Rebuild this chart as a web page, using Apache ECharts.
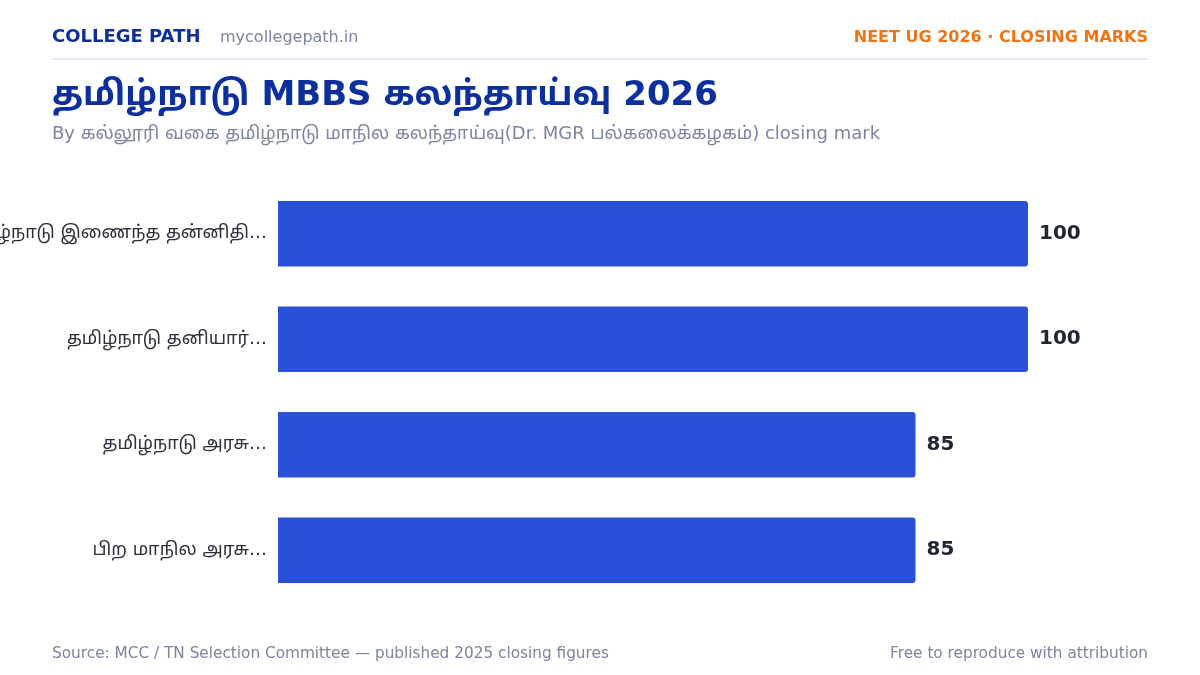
<!DOCTYPE html>
<html><head><meta charset="utf-8">
<script src="https://cdn.jsdelivr.net/npm/echarts@6/dist/echarts.min.js"></script>
<style>html,body{margin:0;padding:0;background:#fff}#c{width:1200px;height:675px}</style>
</head><body><div id="c"></div>
<script>
const categories = ["தமிழ்நாடு இணைந்த தன்னிதி…", "தமிழ்நாடு தனியார்…", "தமிழ்நாடு அரசு…", "பிற மாநில அரசு…"];
const closingMarks = [100, 100, 85, 85];
const xMax = 100;

const FONT = '"DejaVu Sans", "Noto Sans Tamil", sans-serif';
function txt(text, x, y, size, weight, color, align) {
  return { type: 'text', x: x, y: y, silent: true,
    style: { text: text, font: weight + ' ' + size + 'px ' + FONT, fill: color, textAlign: align || 'left', textVerticalAlign: 'middle' } };
}
const chart = echarts.init(document.getElementById('c'));
chart.setOption({
  backgroundColor: '#ffffff',
  textStyle: { fontFamily: FONT },
  graphic: [
    txt('COLLEGE PATH', 52, 37, 18, 'bold', '#0d2f95'),
    txt('mycollegepath.in', 220, 38, 16, 'normal', '#7b84a0'),
    txt('NEET UG 2026 · CLOSING MARKS', 1148, 38, 16, 'bold', '#f07412', 'right'),
    { type: 'line', silent: true, shape: { x1: 52, y1: 59, x2: 1148, y2: 59 }, style: { stroke: '#e6e9f6', lineWidth: 2 } },
    txt('தமிழ்நாடு MBBS கலந்தாய்வு 2026', 52, 96, 34, 'bold', '#0b2f9c'),
    txt('By கல்லூரி வகை தமிழ்நாடு மாநில கலந்தாய்வு(Dr. MGR பல்கலைக்கழகம்) closing mark', 52, 134, 18, 'normal', '#7b84a0'),
    txt('Source: MCC / TN Selection Committee — published 2025 closing figures', 52, 654, 15.3, 'normal', '#7b84a0'),
    txt('Free to reproduce with attribution', 1148, 654, 15.3, 'normal', '#7b84a0', 'right')
  ],
  grid: { left: 278, right: 172, top: 181, bottom: 72, containLabel: false, outerBoundsMode: 'none' },
  xAxis: { type: 'value', min: 0, max: xMax, show: false },
  yAxis: {
    type: 'category', data: categories, inverse: true,
    axisLine: { show: false }, axisTick: { show: false },
    axisLabel: { fontFamily: FONT, fontSize: 18, color: '#2b2f3a', margin: 11, padding: [5, 0, 0, 0] }
  },
  series: [{
    type: 'bar', data: closingMarks, barCategoryGap: '38%',
    itemStyle: { color: '#2b50d8', borderRadius: [0, 3, 3, 0] },
    label: { show: true, position: 'right', distance: 11, fontFamily: FONT, fontSize: 20, fontWeight: 'bold', color: '#1e2533' }
  }],
  animation: false
});
</script></body></html>
